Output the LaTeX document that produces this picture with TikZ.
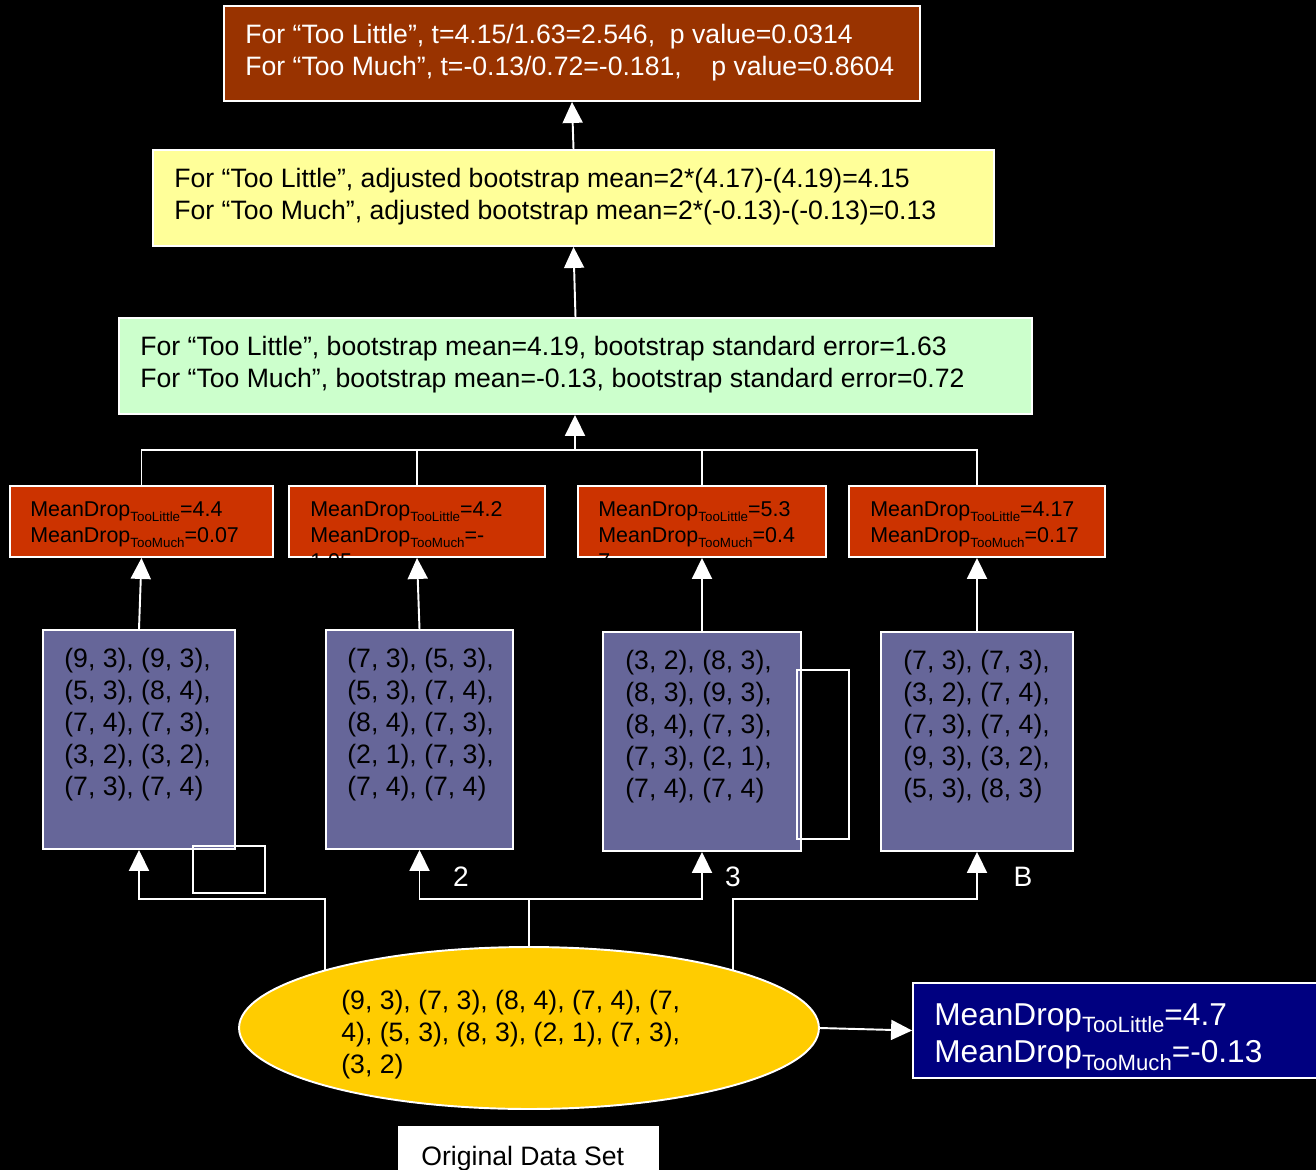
\documentclass[tikz,border=0pt]{standalone}
\usepackage{fontspec}
\setmainfont{Liberation Sans}
\usetikzlibrary{shapes.geometric,arrows.meta}
\definecolor{topc}{HTML}{993300}
\definecolor{yelc}{HTML}{FFFF99}
\definecolor{grnc}{HTML}{CCFFCC}
\definecolor{redc}{HTML}{CC3300}
\definecolor{purc}{HTML}{666699}
\definecolor{ellc}{HTML}{FFCC00}
\definecolor{bluc}{HTML}{000080}
\newcommand\subtx[2]{\raisebox{-0.24em}{\fontsize{#1}{#1}\selectfont #2}}
\begin{document}
\begin{tikzpicture}[x=0.02cm,y=-0.02cm,
  boxs/.style={draw=white,line width=1.1pt,inner sep=0pt,rectangle},
  txt/.style={anchor=west,align=left,inner sep=0pt,font=\fontsize{15.15}{18.2}\selectfont},
  rtxt/.style={anchor=west,align=left,inner sep=0pt,font=\fontsize{12.2}{14.8}\selectfont},
  lbl/.style={inner sep=0pt,text=white,font=\fontsize{16}{19}\selectfont},
  conn/.style={draw=white,line width=1.1pt},
  arr/.style={conn,-{Triangle[length=0.42cm,width=0.4cm]}},
]
\useasboundingbox (0,0) rectangle (1316,1170);
\fill[black] (0,0) rectangle (1316,1170);

% top box
\node[boxs,fill=topc,minimum width=13.92cm,minimum height=1.9cm] (top) at (572,53.5) {};
\node[txt,text=white] (topt) at (245,53) {For “Too Little”, t=4.15/1.63=2.546,\ \ p value=0.0314\\For “Too Much”, t=-0.13/0.72=-0.181,\ \ \ \ p value=0.8604};

% yellow box
\node[boxs,fill=yelc,minimum width=16.82cm,minimum height=1.92cm] (yel) at (573.5,198) {};
\node[txt] (yelt) at (174,197) {For “Too Little”, adjusted bootstrap mean=2*(4.17)-(4.19)=4.15\\For “Too Much”, adjusted bootstrap mean=2*(-0.13)-(-0.13)=0.13};

% green box
\node[boxs,fill=grnc,minimum width=18.26cm,minimum height=1.92cm] (grn) at (575.5,366) {};
\node[txt] (grnt) at (140,365) {For “Too Little”, bootstrap mean=4.19, bootstrap standard error=1.63\\For “Too Much”, bootstrap mean=-0.13, bootstrap standard error=0.72};

% red boxes
\node[boxs,fill=redc,minimum width=5.26cm,minimum height=1.42cm] (r1) at (141.5,521.5) {};
\node[boxs,fill=redc,minimum width=5.12cm,minimum height=1.42cm] (r2) at (417,521.5) {};
\node[boxs,fill=redc,minimum width=4.96cm,minimum height=1.42cm] (r3) at (702,521.5) {};
\node[boxs,fill=redc,minimum width=5.12cm,minimum height=1.42cm] (r4) at (977,521.5) {};
\node[rtxt] (r1t) at (30,525) {MeanDrop\subtx{7.6}{TooLittle}=4.4\\MeanDrop\subtx{7.6}{TooMuch}=0.07};
\node[rtxt] (r2t) at (310,525) {MeanDrop\subtx{7.6}{TooLittle}=4.2\\\rlap{\smash{\raisebox{-14.8pt}{1.05}}}MeanDrop\subtx{7.6}{TooMuch}=-};
\node[rtxt] (r3t) at (598,525) {MeanDrop\subtx{7.6}{TooLittle}=5.3\\\rlap{\smash{\raisebox{-14.8pt}{7}}}MeanDrop\subtx{7.6}{TooMuch}=0.4};
\node[rtxt] (r4t) at (870,525) {MeanDrop\subtx{7.6}{TooLittle}=4.17\\MeanDrop\subtx{7.6}{TooMuch}=0.17};

% purple boxes
\node[boxs,fill=purc,minimum width=3.84cm,minimum height=4.38cm] (p1) at (139,739.5) {};
\node[boxs,fill=purc,minimum width=3.74cm,minimum height=4.38cm] (p2) at (419.5,739.5) {};
\node[boxs,fill=purc,minimum width=3.96cm,minimum height=4.38cm] (p3) at (702,741.5) {};
\node[boxs,fill=purc,minimum width=3.84cm,minimum height=4.38cm] (p4) at (977,741.5) {};
\node[txt] (p1t) at (64,725) {(9, 3), (9, 3),\\(5, 3), (8, 4),\\(7, 4), (7, 3),\\(3, 2), (3, 2),\\(7, 3), (7, 4)};
\node[txt] (p2t) at (347,725) {(7, 3), (5, 3),\\(5, 3), (7, 4),\\(8, 4), (7, 3),\\(2, 1), (7, 3),\\(7, 4), (7, 4)};
\node[txt] (p3t) at (625,727) {(3, 2), (8, 3),\\(8, 3), (9, 3),\\(8, 4), (7, 3),\\(7, 3), (2, 1),\\(7, 4), (7, 4)};
\node[txt] (p4t) at (903,727) {(7, 3), (7, 3),\\(3, 2), (7, 4),\\(7, 3), (7, 4),\\(9, 3), (3, 2),\\(5, 3), (8, 3)};

% empty outlined rectangles
\node[draw=white,line width=1.1pt,inner sep=0pt,minimum width=1.44cm,minimum height=0.94cm] (sq1) at (229,869.5) {};
\node[draw=white,line width=1.1pt,inner sep=0pt,minimum width=1.04cm,minimum height=3.38cm] (sq2) at (823,754.5) {};

% labels
\node[lbl] (l2) at (461,877) {2};
\node[lbl] (l3) at (733,877) {3};
\node[lbl] (lB) at (1023,877) {B};

% ellipse
\node[draw=white,line width=1.1pt,fill=ellc,ellipse,inner sep=0pt,minimum width=11.6cm,minimum height=3.24cm] (ell) at (529,1028) {};
\node[txt] (ellt) at (341,1035) {(9, 3), (7, 3), (8, 4), (7, 4), (7,\\4), (5, 3), (8, 3), (2, 1), (7, 3),\\(3, 2)};

% blue box
\node[boxs,fill=bluc,minimum width=8.24cm,minimum height=1.9cm] (blu) at (1119,1030.5) {};
\node[anchor=west,align=left,inner sep=0pt,text=white,font=\fontsize{18}{21.6}\selectfont] (blut) at (934,1037) {MeanDrop\subtx{12.6}{TooLittle}=4.7\\MeanDrop\subtx{12.6}{TooMuch}=-0.13};

% original data set
\node[boxs,fill=white,minimum width=5.18cm,minimum height=1.06cm] (orig) at (528.5,1153.5) {};
\node[txt] (origt) at (421,1159) {Original Data Set};

% connectors
\coordinate (jn) at (575,450);
\coordinate (lvl) at (0,899);
\draw[conn] (r1.north) |- (jn) -| (r4.north);
\draw[conn] (r2.north) |- (jn);
\draw[conn] (r3.north) |- (jn);
\draw[arr] (jn) -- (jn |- grn.south);
\draw[arr] (grn.north) -- (yel.south);
\draw[arr] (yel.north) -- (top.south);
\draw[arr] (p1.north) -- (r1.south);
\draw[arr] (p2.north) -- (r2.south);
\draw[arr] (p3.north) -- (r3.south);
\draw[arr] (p4.north) -- (r4.south);
\draw[arr] (ell.164) -- (ell.164 |- lvl) -| (p1.south);
\draw[arr] (ell.north) -- (ell.north |- lvl) -| (p2.south);
\draw[arr] (ell.north |- lvl) -| (p3.south);
\draw[arr] (ell.16) -- (ell.16 |- lvl) -| (p4.south);
\draw[arr] (ell.east) -- (blu.west);
\end{tikzpicture}
\end{document}
